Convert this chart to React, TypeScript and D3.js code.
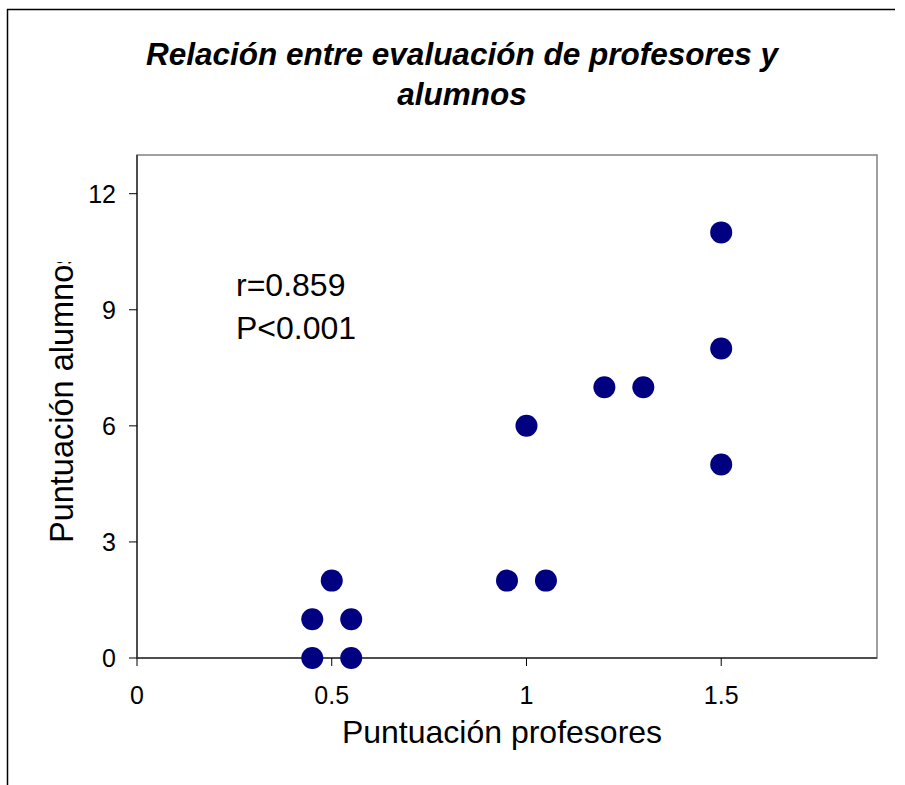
import React from "react";
import * as d3 from "d3";

const profesores = [0.45, 0.55, 0.45, 0.55, 0.5, 0.95, 1.05, 1.0, 1.2, 1.3, 1.5, 1.5, 1.5];
const alumnos = [0, 0, 1, 1, 2, 2, 2, 6, 7, 7, 11, 8, 5];
const xTicks = [0, 0.5, 1, 1.5];
const yTicks = [0, 3, 6, 9, 12];
const titleLines = ["Relación entre evaluación de profesores y", "alumnos"];
const annotation = ["r=0.859", "P<0.001"];
const xLabel = "Puntuación profesores";
const yLabel = "Puntuación alumnos";

const W = 905;
const H = 785;
const left = 137, right = 877, top = 155, bottom = 658;
const font = "'Liberation Sans', Arial, sans-serif";

export default function App() {
  const x = d3.scaleLinear().domain([0, 1.9]).range([left, right]);
  const y = d3.scaleLinear().domain([0, 13]).range([bottom, top]);
  return (
    <svg width={W} height={H} style={{ position: "absolute", left: 0, top: 0, background: "#fff" }} fontFamily={font}>
      <defs>
        <clipPath id="ylab">
          <rect x={0} y={262} width={120} height={400} />
        </clipPath>
      </defs>
      {/* outer frame */}
      <line x1={7} x2={895} y1={9.5} y2={9.5} stroke="#000" strokeWidth={1.5} />
      <line x1={7.5} x2={7.5} y1={9} y2={H} stroke="#000" strokeWidth={1.5} />
      {/* title */}
      {titleLines.map((t, i) => (
        <text key={t} x={462} y={65 + i * 40} textAnchor="middle" fontSize={31.5} fontWeight="bold" fontStyle="italic" fill="#000">{t}</text>
      ))}
      {/* plot area */}
      <rect x={left} y={top} width={right - left} height={bottom - top} fill="none" stroke="#808080" strokeWidth={1.5} />
      <line x1={left} x2={left} y1={top} y2={bottom} stroke="#333" strokeWidth={1.5} />
      <line x1={left} x2={right} y1={bottom} y2={bottom} stroke="#333" strokeWidth={1.5} />
      {yTicks.map((t) => (
        <g key={"y" + t}>
          <line x1={left - 8} x2={left} y1={y(t)} y2={y(t)} stroke="#000" strokeWidth={1} />
          <text x={116} y={y(t) + 9} textAnchor="end" fontSize={25} fill="#000">{t}</text>
        </g>
      ))}
      {xTicks.map((t) => (
        <g key={"x" + t}>
          <line x1={x(t)} x2={x(t)} y1={bottom} y2={bottom + 8} stroke="#000" strokeWidth={1} />
          <text x={x(t)} y={704} textAnchor="middle" fontSize={25} fill="#000">{t}</text>
        </g>
      ))}
      {profesores.map((p, i) => (
        <circle key={i} cx={x(p)} cy={y(alumnos[i])} r={11} fill="#000080" />
      ))}
      {annotation.map((t, i) => (
        <text key={t} x={236} y={296 + i * 43} fontSize={32} fill="#000">{t}</text>
      ))}
      <text x={502} y={743} textAnchor="middle" fontSize={32} fill="#000">{xLabel}</text>
      <g clipPath="url(#ylab)">
        <text transform="translate(73,543) rotate(-90)" fontSize={32.5} fill="#000">{yLabel}</text>
      </g>
    </svg>
  );
}
